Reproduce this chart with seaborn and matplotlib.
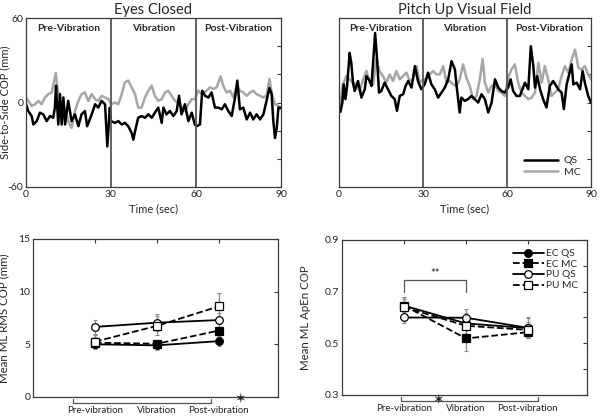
import matplotlib
matplotlib.use("Agg")
import matplotlib.pyplot as plt
import seaborn as sns
import numpy as np
import pandas as pd

sns.set_theme(style="white")
plt.rcParams['font.family'] = ['Lato', 'DejaVu Sans']

# ---------------- data ----------------
# Eyes Closed, QS (black)
ec_qs_t = [0, 0.8, 2.0, 2.6, 3.8, 4.9, 6.1, 7.3, 8.5, 9.6, 10.2, 10.6, 11.4, 12.0, 12.6, 13.2, 13.8, 14.9, 16.1, 17.3,
           18.5, 19.6, 20.8, 21.6, 23.2, 24.4, 25.5, 26.7, 27.9, 28.7, 29.6,
           30.0, 31.4, 32.6, 33.8, 34.9, 36.1, 37.3, 37.9, 38.5, 39.6, 40.8, 42.0, 43.2, 44.4, 45.5, 46.7, 47.9, 48.5,
           49.6, 50.8, 52.0, 53.2, 54.0, 54.9, 56.1, 57.3, 58.5, 59.6,
           60.2, 61.4, 62.2, 63.2, 64.4, 65.5, 66.7, 67.9, 69.1, 70.2, 71.4, 72.6, 73.8, 74.6, 75.5, 76.7, 77.9, 79.1,
           80.2, 81.4, 82.6, 83.8, 84.9, 85.9, 86.7, 87.3, 87.9, 88.5, 89.1, 90.0]
ec_qs_v = [-1.2, -6.0, -9.6, -15.6, -13.2, -7.2, -8.4, -13.2, -9.6, -10.8, -3.6, 12.0, -15.6, 6.0, -15.6, 3.6, -15.6, 1.2, -13.2, -8.4,
           -16.8, -8.4, -6.0, -16.8, -8.4, -1.2, -3.6, 1.2, -1.2, -31.2, -3.6,
           -13.2, -14.4, -13.2, -15.6, -14.4, -16.8, -21.6, -26.4, -20.4, -10.8, -9.6, -10.8, -8.4, -10.8, -7.2, -3.6, -14.4, -3.6,
           -8.4, -6.0, -9.6, -6.0, 4.8, -8.4, -1.2, -13.2, -7.2, -15.6,
           -16.8, -15.6, 8.4, 4.8, 3.6, 7.2, -3.6, -3.6, -4.8, -1.2, -6.0, -9.6, 3.6, 15.6, -4.8, -3.6, -12.0, -7.2,
           -12.0, -8.4, -12.0, -8.4, 1.2, 10.3, 6.0, -13.2, -25.2, -18.0, -3.6, -3.6]

# Eyes Closed, MC (gray)
ec_mc_t = [0, 0.8, 2.0, 3.2, 4.4, 5.5, 6.7, 7.9, 9.1, 10.5, 11.1, 12.0, 12.6, 13.8, 14.9, 16.1, 17.3, 18.5, 19.6, 20.8,
           22.0, 23.2, 24.4, 25.5, 26.7, 27.9, 29.1,
           30.0, 31.4, 32.6, 33.8, 34.9, 36.1, 37.3, 38.5, 39.6, 40.8, 42.0, 43.2, 44.4, 45.5, 46.7, 47.9, 49.1, 50.2,
           51.4, 52.6, 53.8, 54.9, 56.1, 57.3, 58.5, 59.6,
           60.8, 62.0, 63.8, 64.9, 66.1, 67.3, 68.7, 69.6, 70.8, 72.0, 73.2, 74.4, 75.5, 76.7, 77.9, 79.1, 80.2, 81.4,
           82.6, 83.8, 84.9, 85.9, 86.7, 87.9, 89.1, 90.0]
ec_mc_v = [3.6, 1.2, -2.4, -1.2, 1.2, -1.2, 3.6, 6.0, 7.2, 20.9, 10.8, 1.2, -2.4, -3.6, -13.2, -18.0, -6.0, 1.2, 6.0, 7.2,
           1.2, 6.0, 2.4, 1.2, 4.8, 3.6, 2.4,
           -1.2, 0.0, -1.2, 6.0, 14.4, 15.6, 10.8, 6.0, -3.6, -3.6, 3.6, 8.4, 12.0, 4.8, 1.2, 2.4, 7.2, 8.4,
           4.8, 1.2, 0.0, -3.6, -6.0, -1.2, 2.4, 2.4,
           8.4, 6.0, 8.4, 10.8, 9.6, 10.8, 18.7, 12.0, 7.2, 8.4, 3.6, 12.0, 8.4, 7.2, 4.8, 7.2, 8.4, 6.0,
           4.8, 3.6, 4.8, 16.8, 7.2, -1.2, -2.4, -4.8]

# Pitch Up, QS (black)
pu_qs_t = [0, 0.5, 1.2, 1.7, 2.3, 2.9, 3.8, 4.4, 5.0, 5.6, 6.8, 8.0, 9.2, 9.8, 11.0, 11.6, 12.9, 13.6, 14.3, 15.1,
           16.3, 17.5, 18.7, 19.9, 20.7, 21.7, 22.9, 23.8, 24.7, 25.9, 27.1, 28.2, 29.4,
           30.6, 31.8, 33.0, 34.2, 35.4, 36.6, 37.8, 39.0, 40.2, 41.4, 42.0, 43.1, 43.7, 44.9, 46.1, 47.3, 48.5,
           49.7, 50.9, 52.1, 53.3, 54.5, 55.7, 56.9, 58.0, 59.2,
           60.4, 61.3, 62.2, 63.4, 64.6, 66.4, 67.6, 68.5, 69.4, 70.0, 70.8, 71.8, 72.9, 74.1, 75.3, 76.5, 78.3,
           79.5, 80.3, 81.3, 81.9, 83.1, 83.7, 84.9, 86.1, 87.0, 87.8, 89.0, 90.0]
pu_qs_v = [-5.9, -6.6, 0.0, 12.9, 2.4, 11.8, 35.3, 28.2, 14.1, 8.2, 15.3, 3.5, 9.4, 18.8, 15.3, 11.8, 49.4, 30.6, 7.1, 8.2,
           14.1, 9.4, 4.7, 2.4, -5.9, 4.7, 5.9, 11.8, 15.3, 10.6, 25.9, 15.3, 9.4,
           12.9, 21.2, 12.9, 9.4, 3.5, 7.1, 10.6, 16.5, 29.4, 23.5, 11.8, -7.1, 3.5, 1.2, 2.4, 4.7, 2.4,
           0.0, 5.9, 2.4, -7.1, 0.0, 16.5, 10.6, 8.2, 7.1,
           10.6, 16.5, 8.2, 4.7, 4.7, 14.1, 9.4, 40.0, 25.9, 10.6, 18.8, 9.4, 2.4, -3.5, 11.8, 15.3, 9.4,
           7.1, -4.7, 12.9, 17.6, 27.1, 12.9, 14.1, 9.4, 22.4, 14.1, 4.7, 0.0]

# Pitch Up, MC (gray)
pu_mc_t = [0, 0.5, 1.2, 2.6, 3.8, 5.0, 6.2, 7.4, 8.6, 9.8, 11.0, 12.2, 13.3, 14.5, 15.7, 16.9, 18.1, 19.3, 20.5, 21.7,
           22.9, 24.1, 25.3, 26.5, 27.7, 28.8,
           30.0, 31.2, 32.4, 33.6, 34.8, 36.0, 37.2, 38.4, 39.6, 40.8, 42.0, 43.1, 44.3, 45.5, 46.7, 47.9, 49.1,
           50.3, 51.3, 52.1, 53.3, 54.5, 55.7, 56.9, 58.0, 59.2,
           60.4, 61.6, 62.8, 64.0, 65.2, 66.4, 67.6, 68.8, 70.0, 71.2, 72.4, 73.5, 74.7, 75.9, 77.1, 78.3, 79.5,
           80.7, 81.9, 83.1, 84.3, 85.5, 86.6, 87.8, 89.0, 90.0]
pu_mc_v = [0.0, -3.5, 11.8, 18.8, 16.5, 14.1, 12.9, 8.2, 16.5, 22.4, 14.1, 12.9, 30.6, 22.4, 18.8, 14.1, 20.0, 15.3, 22.4, 16.5,
           18.8, 21.2, 15.3, 16.5, 25.9, 14.1,
           16.5, 16.5, 20.0, 22.4, 20.0, 20.0, 25.9, 14.1, 15.3, 12.9, 11.8, 16.5, 27.1, 17.6, 11.8, 2.4, 4.7,
           16.5, 31.1, 14.1, 7.1, 11.8, 12.9, 8.2, 7.1, 4.7,
           17.6, 23.5, 27.1, 14.1, 7.1, 4.7, 2.4, 3.5, 7.1, 28.2, 14.1, 25.9, 16.5, 4.7, 7.1, 9.4, 18.8,
           25.9, 21.2, 30.6, 37.6, 24.7, 23.5, 25.9, 20.0, 16.5]

phases = ["Pre-vibration", "Vibration", "Post-vibration"]
phase_titles = ["Pre-Vibration", "Vibration", "Post-Vibration"]
groups = ["EC QS", "EC MC", "PU QS", "PU MC"]

rms_mean = {"EC QS": [5.0, 4.9, 5.3], "EC MC": [5.15, 5.05, 6.3],
            "PU QS": [6.65, 7.05, 7.3], "PU MC": [5.25, 6.75, 8.6]}
rms_err = {"EC QS": [0.4, 0.4, 0.5], "EC MC": [0.5, 0.4, 0.6],
           "PU QS": [0.7, 0.8, 0.7], "PU MC": [0.6, 0.9, 1.3]}

apen_mean = {"EC QS": [0.646, 0.577, 0.559], "EC MC": [0.646, 0.519, 0.543],
             "PU QS": [0.600, 0.599, 0.560], "PU MC": [0.640, 0.568, 0.552]}
apen_err = {"EC QS": [0.035, 0.04, 0.04], "EC MC": [0.035, 0.05, 0.02],
            "PU QS": [0.02, 0.035, 0.04], "PU MC": [0.03, 0.04, 0.03]}

# ---------------- styling ----------------
GRAY = "#a6a6a6"
SPINE = "#3a3a3a"
style = {"EC QS": dict(marker="o", ls="-", mfc="black"),
         "EC MC": dict(marker="s", ls="--", mfc="black"),
         "PU QS": dict(marker="o", ls="-", mfc="white"),
         "PU MC": dict(marker="s", ls="--", mfc="white")}

fig = plt.figure(figsize=(6.0, 4.16), dpi=100)

ax_tl = fig.add_axes([0.0433, 0.5505, 0.425, 0.406])
ax_tr = fig.add_axes([0.565, 0.5505, 0.42, 0.406])
ax_bl = fig.add_axes([0.055, 0.0457, 0.408, 0.38])
ax_br = fig.add_axes([0.57, 0.0505, 0.408, 0.3726])


def style_axes(ax):
    for s in ax.spines.values():
        s.set_color(SPINE)
        s.set_linewidth(0.9)
    ax.tick_params(direction="in", top=True, right=True, length=3, width=0.8,
                   color=SPINE, labelsize=7.5, pad=2, labelcolor="#222222")


def ts_panel(ax, t1, v1, t2, v2, title, legend):
    sns.lineplot(x=t2, y=v2, color=GRAY, lw=1.8, ax=ax, label="MC" if legend else None)
    sns.lineplot(x=t1, y=v1, color="black", lw=1.8, ax=ax, label="QS" if legend else None)
    for xv in (30, 60):
        ax.axvline(xv, color="#555555", lw=1.3)
    for i, name in enumerate(phase_titles):
        ax.text(15 + 30 * i, 56, name, ha="center", va="top", fontsize=7.5, fontweight="bold")
    ax.set_xlim(0, 90)
    ax.set_ylim(-60, 60)
    ax.set_xticks([0, 30, 60, 90])
    ax.set_yticks([-60, -40, -20, 0, 20, 40, 60])
    style_axes(ax)
    ax.tick_params(axis="x", top=False)
    ax.set_title(title, fontsize=10.5, pad=3)
    ax.set_xlabel("Time (sec)", fontsize=8, labelpad=3)
    if legend:
        h, l = ax.get_legend_handles_labels()
        ax.legend(h[::-1], l[::-1], loc="lower right", frameon=False, fontsize=7.5,
                  handlelength=3.2, handletextpad=0.6, borderaxespad=0.6, labelspacing=0.2)


ts_panel(ax_tl, ec_qs_t, ec_qs_v, ec_mc_t, ec_mc_v, "Eyes Closed", False)
ax_tl.set_yticklabels(["-60", "", "", "0", "", "", "60"])
ax_tl.set_ylabel("Side-to-Side COP (mm)", fontsize=8)
ax_tl.yaxis.set_label_coords(-0.062, 0.5)
ts_panel(ax_tr, pu_qs_t, pu_qs_v, pu_mc_t, pu_mc_v, "Pitch Up Visual Field", True)
ax_tr.set_yticklabels([])


def summary_panel(ax, means, errs, legend):
    xs = [1, 2, 3]
    for g in groups:
        st = style[g]
        ax.errorbar(xs, means[g], yerr=errs[g], fmt="none", ecolor="#8c8c8c", elinewidth=0.9,
                    capsize=1.5, capthick=0.8, zorder=1)
        df = pd.DataFrame({"x": xs, "y": means[g]})
        sns.lineplot(data=df, x="x", y="y", ax=ax, color="black", lw=1.3, linestyle=st["ls"],
                     marker=st["marker"], markersize=5.5, markerfacecolor=st["mfc"],
                     markeredgecolor="black", markeredgewidth=0.9, label=g if legend else None, zorder=3)
    ax.set_xlim(0, 3.95)
    ax.set_xticks(xs)
    ax.set_xticklabels(phases)
    ax.set_xlabel("")
    style_axes(ax)
    ax.tick_params(axis="x", labelsize=7, pad=6.5)


summary_panel(ax_bl, rms_mean, rms_err, False)
ax_bl.set_ylim(0, 15)
ax_bl.set_yticks([0, 5, 10, 15])
ax_bl.set_ylabel("Mean ML RMS COP (mm)", fontsize=8.3)
ax_bl.yaxis.set_label_coords(-0.095, 0.5)

summary_panel(ax_br, apen_mean, apen_err, True)
ax_br.set_ylim(0.3, 0.9)
ax_br.set_yticks([0.3, 0.4, 0.5, 0.6, 0.7, 0.8, 0.9])
ax_br.set_yticklabels(["0.3", "", "0.5", "", "0.7", "", "0.9"])
ax_br.set_ylabel("Mean ML ApEn COP", fontsize=8.3)
ax_br.yaxis.set_label_coords(-0.125, 0.5)
ax_br.legend(loc="upper right", frameon=False, fontsize=7.3, handlelength=3.0,
             handletextpad=0.2, labelspacing=0.15, borderaxespad=0.5)

# significance bracket (** between Pre and Vibration)
ax_br.plot([1, 1, 2, 2], [0.70, 0.745, 0.745, 0.70], color="#555555", lw=0.9)
ax_br.text(1.5, 0.75, "**", ha="center", va="bottom", fontsize=8)

# brackets and stars below the x axis
trans_bl = ax_bl.get_xaxis_transform()
ax_bl.plot([0.65, 0.65, 2.87, 2.87], [-0.01, -0.04, -0.04, -0.01], color="#555555", lw=0.9,
           transform=trans_bl, clip_on=False)
ax_bl.text(3.35, -0.012, "\u2736", ha="center", va="center", fontsize=10, transform=trans_bl,
           family="DejaVu Sans")
trans_br = ax_br.get_xaxis_transform()
ax_br.plot([0.95, 0.95, 3.17, 3.17], [-0.01, -0.04, -0.04, -0.01], color="#555555", lw=0.9,
           transform=trans_br, clip_on=False)
ax_br.text(1.55, -0.03, "\u2736", ha="center", va="center", fontsize=10, transform=trans_br,
           family="DejaVu Sans")

fig.savefig("out.png", dpi=100)
